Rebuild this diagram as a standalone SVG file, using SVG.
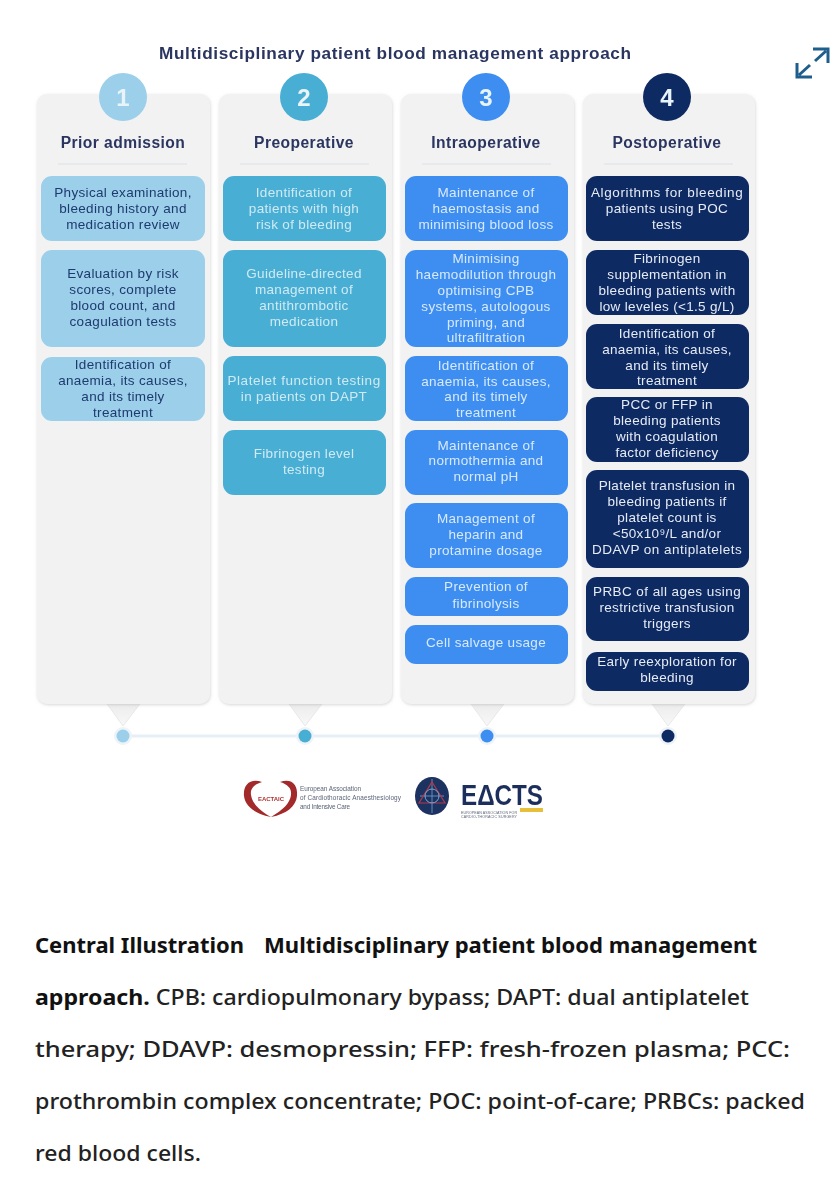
<svg xmlns="http://www.w3.org/2000/svg" width="838" height="1200" viewBox="0 0 838 1200">
<defs>
<filter id="soft" x="-5%" y="-5%" width="110%" height="110%"><feGaussianBlur stdDeviation="0.6"/></filter>
<filter id="shadow" x="-10%" y="-10%" width="120%" height="120%"><feDropShadow dx="0.5" dy="1" stdDeviation="1.5" flood-color="#b5b5b5" flood-opacity="0.55"/></filter>
<linearGradient id="tailg" x1="0" y1="0" x2="0" y2="1"><stop offset="0" stop-color="#ececec"/><stop offset="1" stop-color="#f8f8f8"/></linearGradient>
</defs>
<style>
text{font-family:"Liberation Sans",Arial,sans-serif;text-anchor:middle}
.panel{fill:#f2f2f2;filter:url(#shadow)}
.sep{stroke:#e3e6ea;stroke-width:1.5}
.tail{fill:url(#tailg);stroke:#e8e8e8}
.head{font-size:15.6px;font-weight:bold;fill:#2a3560;letter-spacing:.45px}
.b{font-size:13.5px;letter-spacing:.33px}
.c1 rect{fill:#9bcfea}.c1 text{fill:#1f3a6e}
.c2 rect{fill:#49aed3}.c2 text{fill:#cfeaf4}
.c3 rect{fill:#3d8ef0}.c3 text{fill:#d8e9fc}
.c4 rect{fill:#0e2a63}.c4 text{fill:#e6ebf5}
.num{font-size:24px;font-weight:bold;fill:#e8f3fa}
.cap{font-family:"Noto Sans",sans-serif;font-size:22px;font-weight:500;fill:#222;text-anchor:start}
.capb{font-weight:bold;fill:#111}
</style>
<rect width="838" height="1200" fill="#fff"/>
<g filter="url(#soft)">
<text id="title" x="395" y="59" font-size="17.2" font-weight="bold" fill="#2a3560" textLength="472">Multidisciplinary patient blood management approach</text>
<g id="connectors">
<path d="M123 736H668" stroke="#e6eff5" stroke-width="3" fill="none"/>
<path class="tail" d="M107 704H140L123 726Z"/><path class="tail" d="M289 704H322L305 726Z"/><path class="tail" d="M471 704H504L487 726Z"/><path class="tail" d="M652 704H685L668 726Z"/>
</g>
<g id="col1" class="c1">
<rect class="panel" style="fill:#f2f2f2" x="37" y="94" width="173" height="610" rx="10"/>
<circle cx="123" cy="97" r="24" fill="#9bcfea"/><text class="num" x="123" y="106" style="fill:#e8f3fa">1</text>
<text class="head" x="123" y="148" style="fill:#2a3560">Prior admission</text>
<path class="sep" d="M58 164H187"/>
<rect x="41" y="176" width="164" height="65" rx="11"/>
<text class="b" x="123" y="197">Physical examination,</text><text class="b" x="123" y="213">bleeding history and</text><text class="b" x="123" y="229">medication review</text>
<rect x="41" y="250" width="164" height="97" rx="11"/>
<text class="b" x="123" y="278">Evaluation by risk</text><text class="b" x="123" y="294">scores, complete</text><text class="b" x="123" y="310">blood count, and</text><text class="b" x="123" y="326">coagulation tests</text>
<rect x="41" y="357" width="164" height="64" rx="11"/>
<text class="b" x="123" y="369">Identification of</text><text class="b" x="123" y="385">anaemia, its causes,</text><text class="b" x="123" y="401">and its timely</text><text class="b" x="123" y="417">treatment</text>
</g>
<g id="col2" class="c2">
<rect class="panel" style="fill:#f2f2f2" x="219" y="94" width="173" height="610" rx="10"/>
<circle cx="304" cy="97" r="24" fill="#49aed3"/><text class="num" x="304" y="106" style="fill:#e8f3fa">2</text>
<text class="head" x="304" y="148" style="fill:#2a3560">Preoperative</text>
<path class="sep" d="M240 164H369"/>
<rect x="223" y="176" width="163" height="65" rx="11"/>
<text class="b" x="304" y="197">Identification of</text><text class="b" x="304" y="213">patients with high</text><text class="b" x="304" y="229">risk of bleeding</text>
<rect x="223" y="250" width="163" height="97" rx="11"/>
<text class="b" x="304" y="278">Guideline-directed</text><text class="b" x="304" y="294">management of</text><text class="b" x="304" y="310">antithrombotic</text><text class="b" x="304" y="326">medication</text>
<rect x="223" y="356" width="163" height="65" rx="11"/>
<text class="b" x="304" y="385" textLength="153">Platelet function testing</text><text class="b" x="304" y="401">in patients on DAPT</text>
<rect x="223" y="430" width="163" height="65" rx="11"/>
<text class="b" x="304" y="458">Fibrinogen level</text><text class="b" x="304" y="474">testing</text>
</g>
<g id="col3" class="c3">
<rect class="panel" style="fill:#f2f2f2" x="401" y="94" width="173" height="610" rx="10"/>
<circle cx="486" cy="97" r="24" fill="#3d8ef0"/><text class="num" x="486" y="106" style="fill:#e8f3fa">3</text>
<text class="head" x="486" y="148" style="fill:#2a3560">Intraoperative</text>
<path class="sep" d="M422 164H551"/>
<rect x="405" y="176" width="163" height="65" rx="11"/>
<text class="b" x="486" y="197">Maintenance of</text><text class="b" x="486" y="213">haemostasis and</text><text class="b" x="486" y="229">minimising blood loss</text>
<rect x="405" y="250" width="163" height="97" rx="11"/>
<text class="b" x="486" y="263">Minimising</text><text class="b" x="486" y="279">haemodilution through</text><text class="b" x="486" y="295">optimising CPB</text><text class="b" x="486" y="311">systems, autologous</text><text class="b" x="486" y="327">priming, and</text><text class="b" x="486" y="342">ultrafiltration</text>
<rect x="405" y="356" width="163" height="65" rx="11"/>
<text class="b" x="486" y="370">Identification of</text><text class="b" x="486" y="386">anaemia, its causes,</text><text class="b" x="486" y="401">and its timely</text><text class="b" x="486" y="417">treatment</text>
<rect x="405" y="430" width="163" height="65" rx="11"/>
<text class="b" x="486" y="450">Maintenance of</text><text class="b" x="486" y="465">normothermia and</text><text class="b" x="486" y="481">normal pH</text>
<rect x="405" y="503" width="163" height="65" rx="11"/>
<text class="b" x="486" y="523">Management of</text><text class="b" x="486" y="539">heparin and</text><text class="b" x="486" y="555">protamine dosage</text>
<rect x="405" y="577" width="163" height="39" rx="11"/>
<text class="b" x="486" y="591">Prevention of</text><text class="b" x="486" y="608">fibrinolysis</text>
<rect x="405" y="625" width="163" height="39" rx="11"/>
<text class="b" x="486" y="647">Cell salvage usage</text>
</g>
<g id="col4" class="c4">
<rect class="panel" style="fill:#f2f2f2" x="583" y="94" width="172" height="610" rx="10"/>
<circle cx="667" cy="97" r="24" fill="#0e2a63"/><text class="num" x="667" y="106" style="fill:#e8f3fa">4</text>
<text class="head" x="667" y="148" style="fill:#2a3560">Postoperative</text>
<path class="sep" d="M604 164H733"/>
<rect x="586" y="176" width="163" height="65" rx="11"/>
<text class="b" x="667" y="197" textLength="152">Algorithms for bleeding</text><text class="b" x="667" y="213">patients using POC</text><text class="b" x="667" y="229">tests</text>
<rect x="586" y="250" width="163" height="65" rx="11"/>
<text class="b" x="667" y="263">Fibrinogen</text><text class="b" x="667" y="279">supplementation in</text><text class="b" x="667" y="295">bleeding patients with</text><text class="b" x="667" y="311">low leveles (&lt;1.5 g/L)</text>
<rect x="586" y="324" width="163" height="65" rx="11"/>
<text class="b" x="667" y="338">Identification of</text><text class="b" x="667" y="354">anaemia, its causes,</text><text class="b" x="667" y="370">and its timely</text><text class="b" x="667" y="385">treatment</text>
<rect x="586" y="397" width="163" height="65" rx="11"/>
<text class="b" x="667" y="409">PCC or FFP in</text><text class="b" x="667" y="425">bleeding patients</text><text class="b" x="667" y="441">with coagulation</text><text class="b" x="667" y="457">factor deficiency</text>
<rect x="586" y="470" width="163" height="98" rx="11"/>
<text class="b" x="667" y="490">Platelet transfusion in</text><text class="b" x="667" y="506">bleeding patients if</text><text class="b" x="667" y="522">platelet count is</text><text class="b" x="667" y="538">&lt;50x10⁹/L and/or</text><text class="b" x="667" y="554" textLength="150">DDAVP on antiplatelets</text>
<rect x="586" y="577" width="163" height="64" rx="11"/>
<text class="b" x="667" y="596" textLength="148">PRBC of all ages using</text><text class="b" x="667" y="612">restrictive transfusion</text><text class="b" x="667" y="628">triggers</text>
<rect x="586" y="652" width="163" height="39" rx="11"/>
<text class="b" x="667" y="666">Early reexploration for</text><text class="b" x="667" y="682">bleeding</text>
</g>
<g id="timeline">
<circle cx="123" cy="736" r="9" fill="#eef3f7"/><circle cx="123" cy="736" r="6.5" fill="#9bcfea"/>
<circle cx="305" cy="736" r="9" fill="#eef3f7"/><circle cx="305" cy="736" r="6.5" fill="#49aed3"/>
<circle cx="487" cy="736" r="9" fill="#eef3f7"/><circle cx="487" cy="736" r="6.5" fill="#3d8ef0"/>
<circle cx="668" cy="736" r="9" fill="#eef3f7"/><circle cx="668" cy="736" r="6.5" fill="#0e2a63"/>
</g>
<g id="logos">
<path d="M262 782C250 778 243 785 244 796C245 806 255 814 271 817C259 810 252 803 251 795C250 788 255 784 262 782Z" fill="#a32a2a"/>
<path d="M280 782C292 778 298 785 297 796C296 806 287 814 271 817C283 810 290 803 291 795C292 788 287 784 280 782Z" fill="#a32a2a"/>
<text x="271" y="801" font-size="6" font-weight="bold" fill="#b03030">EACTAIC</text>
<g fill="#5a6478"><text x="300" y="791" font-size="6.4" style="text-anchor:start" textLength="61">European Association</text><text x="300" y="800" font-size="6.4" style="text-anchor:start" textLength="101">of Cardiothoracic Anaesthesiology</text><text x="300" y="809" font-size="6.4" style="text-anchor:start" textLength="50">and Intensive Care</text></g>
<ellipse cx="432" cy="796" rx="17" ry="19" fill="#1f3060"/><path d="M432 779V813M420 796H444" stroke="#5f8fc0" stroke-width="1"/><path d="M432 782L445 803H419Z" fill="none" stroke="#b03a4a" stroke-width="1.2"/><circle cx="432" cy="796" r="7" fill="none" stroke="#7fa8d0"/>
<text x="502" y="805" font-size="29" font-weight="bold" fill="#1f2f5c" textLength="82" lengthAdjust="spacingAndGlyphs">EΔCTS</text>
<rect x="520" y="808" width="23" height="4" fill="#e6bf3a"/>
<text x="489" y="814" font-size="3.6" fill="#5a6478" textLength="56">EUROPEAN ASSOCIATION FOR</text>
<text x="489" y="818" font-size="3.6" fill="#5a6478" textLength="56">CARDIO-THORACIC SURGERY</text>
</g>
<g id="expand" fill="none" stroke="#1f5e8c" stroke-width="3">
<path d="M813 49H828V63M826 51L815 61M797 63V77H812M799 75L810 65"/>
</g>
</g>
<g id="caption">
<text class="cap capb" x="35" y="953" textLength="209" lengthAdjust="spacingAndGlyphs">Central Illustration</text>
<text class="cap capb" x="264" y="953" textLength="493" lengthAdjust="spacingAndGlyphs">Multidisciplinary patient blood management</text>
<text class="cap" x="35" y="1005" textLength="714" lengthAdjust="spacingAndGlyphs"><tspan class="capb">approach.</tspan> CPB: cardiopulmonary bypass; DAPT: dual antiplatelet</text>
<text class="cap" x="35" y="1057" textLength="755" lengthAdjust="spacingAndGlyphs">therapy; DDAVP: desmopressin; FFP: fresh-frozen plasma; PCC:</text>
<text class="cap" x="35" y="1109" textLength="770" lengthAdjust="spacingAndGlyphs">prothrombin complex concentrate; POC: point-of-care; PRBCs: packed</text>
<text class="cap" x="35" y="1161" textLength="166" lengthAdjust="spacingAndGlyphs">red blood cells.</text>
</g>
</svg>
